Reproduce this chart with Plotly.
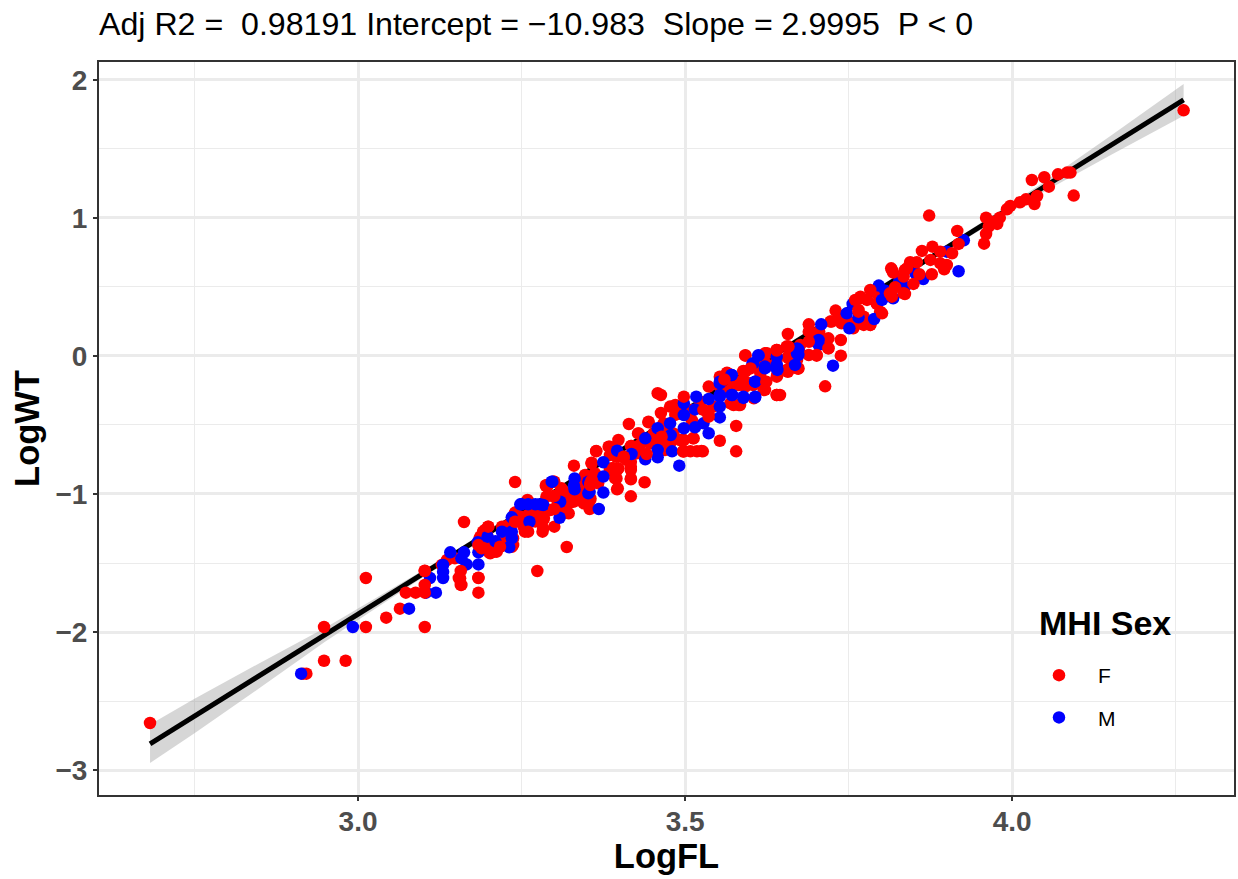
import plotly.graph_objects as go

# (LogFL, LogWT)
female_points = [
(2.682,-2.659),(2.916,-2.302),(2.921,-2.302),(2.948,-1.964),(2.948,-2.208),(2.981,-2.208),(3.012,-1.609),(3.012,-1.964),
(3.043,-1.896),(3.064,-1.831),(3.073,-1.715),(3.088,-1.715),(3.102,-1.964),(3.162,-1.203),(3.184,-1.609),(3.184,-1.715),
(3.157,-1.659),(3.154,-1.609),(3.128,-1.514),(3.136,-1.478),(3.148,-1.466),
(3.240,-0.913),(3.319,-1.384),(3.274,-1.558),(3.184,-1.606),(3.158,-1.659),
(3.199,-1.237),(3.191,-1.273),(3.186,-1.321),(3.199,-1.358),(3.199,-1.418),(3.212,-1.418),(3.220,-1.237),
(3.222,-1.309),(3.235,-1.382),(3.240,-1.135),(3.255,-1.273),(3.282,-1.273),(3.300,-1.237),(3.271,-1.135),
(3.259,-1.043),(3.284,-1.176),(3.287,-0.940),(3.300,-0.911),(3.311,-0.959),(3.319,-0.995),(3.322,-1.140),(3.329,-1.056),
(3.330,-0.795),(3.347,-0.887),(3.344,-0.995),(3.355,-1.043),(3.354,-1.109),(3.357,-0.778),(3.364,-0.691),
(3.385,-0.657),(3.398,-0.609),(3.395,-0.730),(3.388,-0.814),(3.398,-0.814),(3.395,-0.887),(3.396,-0.966),(3.417,-0.652),
(3.417,-0.766),(3.417,-0.826),(3.417,-0.894),(3.438,-0.915),(3.417,-1.017),(3.414,-0.493),(3.428,-0.561),(3.444,-0.476),
(3.449,-0.609),(3.458,-0.270),(3.463,-0.283),(3.463,-0.413),(3.485,-0.355),(3.492,-0.416),(3.459,-0.597),(3.475,-0.609),
(3.498,-0.609),(3.512,-0.597),(3.508,-0.691),(3.518,-0.691),(3.527,-0.691),(3.553,-0.614),(3.578,-0.507),(3.578,-0.691),
(3.536,-0.222),(3.564,-0.121),(3.574,-0.210),(3.589,-0.114),(3.592,0.005),(3.574,-0.355),(3.584,-0.355),
(3.705,0.176),(3.657,0.159),(3.738,0.116),(3.719,0.128),(3.719,0.056),(3.690,0.104),(3.676,0.080),(3.738,0.002),
(3.714,-0.220),(3.701,0.002),(3.689,0.007),(3.657,-0.005),(3.625,0.019),(3.592,0.002),(3.607,-0.053),(3.673,-0.092),
(3.657,-0.114),(3.641,-0.138),(3.622,-0.053),(3.589,-0.109),(3.564,-0.126),(3.579,-0.186),(3.604,-0.210),
(3.622,-0.246),(3.640,-0.283),(3.645,-0.283),(3.569,-0.246),(3.592,-0.222),(3.689,0.229),(3.689,0.176),(3.730,0.329),
(3.722,0.249),(3.734,0.261),(3.747,0.266),(3.773,0.225),(3.783,0.225),(3.757,0.200),(3.793,0.454),(3.778,0.406),(3.793,0.377),
# dense band, lower part
(3.187,-1.309),(3.194,-1.261),(3.184,-1.369),(3.197,-1.369),(3.209,-1.418),(3.202,-1.430),(3.222,-1.369),(3.237,-1.369),
(3.237,-1.321),(3.222,-1.309),(3.230,-1.225),(3.240,-1.140),(3.240,-1.200),(3.253,-1.237),(3.271,-1.200),(3.283,-1.188),
(3.283,-1.249),(3.260,-1.055),(3.288,-1.019),(3.299,-1.019),(3.288,-0.935),(3.311,-0.971),(3.319,-1.019),(3.314,-1.092),
(3.314,-1.140),(3.283,-1.104),(3.271,-1.104),
(3.197,-1.297),(3.204,-1.345),(3.227,-1.285),(3.248,-1.164),(3.260,-1.152),(3.276,-1.152),(3.294,-1.116),(3.306,-1.055),
# dense band, middle part
(3.364,-0.688),(3.383,-0.657),(3.385,-0.718),(3.418,-0.652),(3.406,-0.730),(3.429,-0.561),(3.444,-0.481),(3.457,-0.609),
(3.446,-0.633),(3.475,-0.621),(3.470,-0.536),(3.357,-0.773),(3.347,-0.862),(3.357,-0.923),(3.396,-0.826),(3.393,-0.887),
(3.397,-0.959),(3.417,-0.887),(3.417,-0.802),(3.339,-1.019),(3.311,-0.971),(3.299,-0.911),(3.289,-0.947),(3.301,-1.019),
(3.322,-1.068),(3.345,-1.068),(3.355,-1.031),(3.304,-1.092),(3.350,-0.886),(3.352,-0.947),
(3.324,-1.019),(3.339,-0.947),(3.367,-0.923),(3.362,-0.850),(3.385,-0.826),(3.411,-0.754),(3.426,-0.705),(3.431,-0.645),
(3.452,-0.560),(3.467,-0.488),(3.482,-0.561),(3.492,-0.609),
# dense band, upper middle
(3.622,0.019),(3.640,0.043),(3.655,0.068),(3.671,-0.089),(3.655,-0.101),(3.625,-0.065),(3.610,-0.053),(3.622,-0.186),
(3.620,-0.246),(3.592,-0.113),(3.574,-0.186),(3.589,-0.174),(3.553,-0.222),(3.569,-0.343),(3.582,-0.355),(3.605,-0.307),
(3.640,-0.283),(3.523,-0.379),(3.536,-0.428),(3.510,-0.464),(3.513,-0.597),(3.497,-0.609),(3.497,-0.689),(3.525,-0.689),
(3.462,-0.585),(3.469,-0.681),(3.452,-0.609),
(3.553,-0.150),(3.582,-0.210),(3.599,-0.198),(3.615,-0.126),(3.523,-0.331),(3.543,-0.367),(3.510,-0.391),(3.477,-0.367),
(3.485,-0.427),(3.477,-0.633),(3.462,-0.657),(3.513,-0.488),
# dense band, upper part
(3.798,0.321),(3.783,0.225),(3.768,0.237),(3.724,0.249),(3.640,0.044),(3.625,-0.077),(3.640,-0.150),(3.658,-0.017),
(3.658,-0.101),(3.673,-0.089),
(3.671,-0.029),(3.640,-0.029),(3.706,0.092),(3.696,0.116),(3.701,0.164),(3.676,0.019),(3.739,0.237),(3.757,0.237),
(3.773,0.285),(3.793,0.382),(3.829,0.551),
]
male_points = [
(2.913,-2.302),(2.992,-1.964),(3.078,-1.831),(3.104,-1.715),(3.119,-1.715),(3.110,-1.609),(3.130,-1.514),(3.130,-1.563),
(3.130,-1.609),(3.141,-1.423),(3.158,-1.466),(3.162,-1.423),(3.166,-1.510),(3.184,-1.510),(3.184,-1.423),(3.183,-1.350),
(3.198,-1.309),(3.210,-1.343),(3.220,-1.273),(3.235,-1.273),(3.235,-1.321),(3.231,-1.386),(3.235,-1.169),
(3.250,-1.075),(3.260,-1.075),(3.271,-1.075),(3.248,-1.075),(3.278,-1.075),(3.262,-1.201),(3.308,-1.172),(3.309,-1.056),(3.297,-0.911),(3.331,-0.887),
(3.331,-0.966),(3.354,-0.983),(3.352,-0.911),(3.368,-1.109),(3.375,-0.990),(3.375,-0.874),(3.375,-0.770),(3.396,-0.686),
(3.418,-0.710),(3.439,-0.597),(3.439,-0.749),(3.458,-0.524),(3.458,-0.681),(3.458,-0.734),(3.477,-0.488),(3.478,-0.573),
(3.480,-0.691),(3.491,-0.795),(3.498,-0.428),(3.498,-0.524),(3.498,-0.343),(3.517,-0.295),(3.515,-0.387),(3.515,-0.517),
(3.528,-0.488),(3.536,-0.560),(3.536,-0.312),(3.553,-0.198),(3.553,-0.295),(3.553,-0.367),(3.553,-0.445),(3.571,-0.138),
(3.572,-0.283),(3.589,-0.304),(3.607,-0.186),(3.607,-0.300),(3.612,0.005),(3.603,-0.058),
(3.926,0.838),(3.918,0.614),(3.900,0.756),(3.864,0.558),(3.852,0.599),(3.827,0.539),(3.836,0.502),(3.796,0.510),(3.806,0.473),
(3.801,0.406),(3.818,0.418),(3.756,0.377),(3.747,0.309),(3.765,0.280),(3.789,0.268),(3.751,0.200),(3.708,0.229),(3.704,0.116),
(3.704,0.080),(3.673,0.048),(3.673,0.007),(3.726,-0.070),(3.612,0.002),(3.604,-0.053),(3.640,-0.005),(3.640,-0.065),(3.641,-0.101),
(3.668,-0.065),(3.622,-0.077),(3.571,-0.138),(3.607,-0.186),(3.553,-0.186),(3.553,-0.283),(3.571,-0.283),(3.589,-0.295),(3.607,-0.295),
(3.296,-0.911),(3.283,-1.080),(3.330,-0.940),(3.352,-0.995),(3.640,-0.090),(3.671,0.055),(3.671,0.019),(3.622,-0.089),
]
female_top_points = [
(3.102,-1.715),(3.102,-1.659),(3.102,-1.558),(3.102,-1.556),(3.156,-1.611),(3.157,-1.558),(3.184,-1.370),(3.240,-1.201),(3.260,-1.273),
(3.300,-1.015),(3.300,-1.109),(3.355,-0.935),(3.357,-0.899),(3.390,-0.814),(3.406,-0.730),(3.441,-0.710),(3.498,-0.691),
(3.528,-0.391),(3.536,-0.440),(3.498,-0.295),(3.464,-0.585),(3.560,-0.170),(3.600,-0.090),
(3.199,-1.237),(3.189,-1.394),(3.217,-1.382),(3.355,-0.923),(3.406,-0.737),(3.497,-0.693),
(3.657,0.068),(3.640,0.039),(3.624,-0.186),(3.765,0.321),(3.760,0.406),(3.768,0.430),(3.801,0.309),(3.783,0.478),(3.821,0.498),
(3.816,0.430),(3.836,0.449),(3.858,0.592),(3.849,0.522),(3.834,0.575),(3.815,0.635),(3.818,0.604),(3.839,0.635),(3.844,0.679),
(3.854,0.679),(3.877,0.592),(3.896,0.628),(3.890,0.671),(3.900,0.659),(3.875,0.696),(3.890,0.756),(3.862,0.761),(3.878,0.792),
(3.908,0.744),(3.918,0.812),(3.916,0.906),(3.873,1.017),
(3.957,0.814),(3.960,0.884),(3.964,0.937),(3.960,1.002),(3.969,0.973),(3.977,0.957),(3.981,1.002),(3.992,1.063),(3.997,1.087),
(4.012,1.114),(4.021,1.135),(4.038,1.159),(4.034,1.101),(4.056,1.227),(4.049,1.295),(4.030,1.275),(4.070,1.316),(4.084,1.329),
(4.089,1.329),(4.094,1.162),(4.262,1.780),
(3.816,0.623),(3.836,0.623),(3.834,0.454),(3.813,0.454),(3.768,0.418),(3.765,0.333),(3.689,0.104),(3.719,0.056),(3.701,0.007),(3.658,0.068),
]
fit_x = [2.682,2.75,2.85,2.95,3.1,3.5,3.9,4.05,4.15,4.262]
fit_y = [-2.81,-2.609,-2.314,-2.019,-1.576,-0.395,0.786,1.229,1.524,1.855]
fit_halfwidth = [0.14,0.125,0.09,0.05,0.025,0.012,0.02,0.035,0.07,0.115]

title_text = "Adj R2 =  0.98191 Intercept = \u221210.983  Slope = 2.9995  P < 0"
FONT = "Liberation Sans"

def xs(p): return [a for a, _ in p]
def ys(p): return [b for _, b in p]

upper = [y + h for y, h in zip(fit_y, fit_halfwidth)]
lower = [y - h for y, h in zip(fit_y, fit_halfwidth)]

fig = go.Figure()
fig.add_trace(go.Scatter(x=fit_x + fit_x[::-1], y=upper + lower[::-1], fill="toself", mode="none",
                         fillcolor="rgba(153,153,153,0.4)", showlegend=False, hoverinfo="skip"))
fig.add_trace(go.Scatter(x=fit_x, y=fit_y, mode="lines", line=dict(color="black", width=5), showlegend=False))
marker_f = dict(color="#ff0000", size=12.5, line=dict(width=0))
marker_m = dict(color="#0000ff", size=12.5, line=dict(width=0))
fig.add_trace(go.Scatter(x=xs(female_points), y=ys(female_points), mode="markers", marker=marker_f, name="F", legendgroup="F"))
fig.add_trace(go.Scatter(x=xs(male_points), y=ys(male_points), mode="markers", marker=marker_m, name="M", legendgroup="M"))
fig.add_trace(go.Scatter(x=xs(female_top_points), y=ys(female_top_points), mode="markers", marker=marker_f, name="F", legendgroup="F", showlegend=False))

axis_common = dict(showgrid=True, gridcolor="#ebebeb", gridwidth=2.6, zeroline=False, showline=True, mirror=True,
                   linecolor="#333333", linewidth=2, ticks="outside", ticklen=4, tickwidth=2, tickcolor="#333333",
                   tickfont=dict(family=FONT, size=28, color="#4d4d4d", weight="bold"))
fig.update_xaxes(range=[2.604, 4.339], tick0=3, dtick=0.5, tickformat=".1f", ticklabelstandoff=-4,
                 minor=dict(showgrid=True, dtick=0.25, tick0=3, gridcolor="#ebebeb", gridwidth=1, ticks=""),
                 title=dict(text="<b>LogFL</b>", font=dict(family=FONT, size=34.5, color="black"), standoff=3), **axis_common)
fig.update_yaxes(range=[-3.181, 2.13], tick0=0, dtick=1,
                 minor=dict(showgrid=True, dtick=0.5, tick0=0, gridcolor="#ebebeb", gridwidth=1, ticks=""),
                 title=dict(text="<b>LogWT</b>", font=dict(family=FONT, size=34.5, color="black"), standoff=5), **axis_common)
fig.update_layout(
    width=1238, height=879, margin=dict(l=99, r=4, t=62, b=84, autoexpand=False),
    paper_bgcolor="white", plot_bgcolor="white",
    font=dict(family=FONT, color="black"),
    title=dict(text=title_text, x=99/1238, xanchor="left", xref="container", y=1-24/879, yanchor="middle",
               font=dict(family=FONT, size=32.15, color="black")),
    legend=dict(x=(1020-99)/1135, y=(795-655)/733, xanchor="left", yanchor="top", bgcolor="rgba(0,0,0,0)",
                font=dict(family=FONT, size=21, color="black"), tracegroupgap=12, itemwidth=68),
    annotations=[dict(text="<b>MHI Sex</b>", xref="paper", yref="paper", x=(1105-99)/1135, y=(795-623)/733,
                      xanchor="center", yanchor="middle", showarrow=False, font=dict(family=FONT, size=34, color="black"))],
    shapes=[dict(type="rect", xref="paper", yref="paper", layer="between", x0=(1025-99)/1135, x1=(1187-99)/1135,
                 y0=(795-754)/733, y1=(795-591)/733, fillcolor="white", line=dict(width=0))],
)
fig.write_html("out.html", post_script="document.body.style.margin='0';", config=dict(displayModeBar=False))
